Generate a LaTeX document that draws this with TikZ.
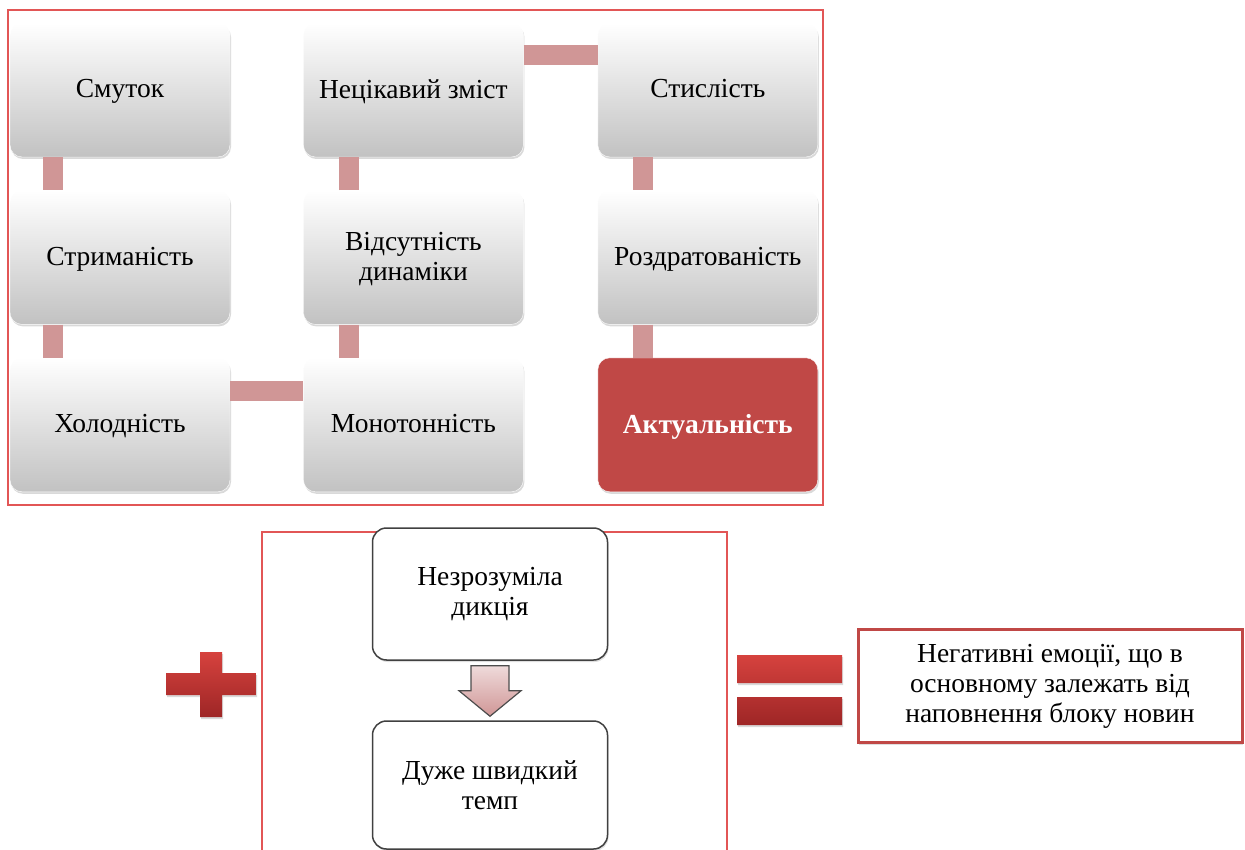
\documentclass[tikz,border=0pt]{standalone}
\usepackage{fontspec}
\setmainfont{Liberation Serif}
\usetikzlibrary{calc,positioning,shadows}
\definecolor{acred}{RGB}{192,72,70}
\definecolor{acdark}{RGB}{158,38,38}
\definecolor{actop}{RGB}{214,66,62}
\definecolor{acpink}{RGB}{208,150,150}
\definecolor{frred}{RGB}{226,86,86}

\tikzset{
  card/.style={draw=white,rounded corners=12pt,top color=white,bottom color=black!24,
    minimum width=220pt,minimum height=134pt,align=center,text depth=0.25em,
    drop shadow={opacity=0.3,shadow xshift=1pt,shadow yshift=-2pt}},
  hotcard/.style={card,top color=acred,bottom color=acred,text=white,font=\fontsize{27.5}{30}\selectfont\bfseries},
  link/.style={line width=20pt,draw=acpink},
  plainbox/.style={draw=black!75,line width=1.5pt,rounded corners=14pt,fill=white,
    minimum width=235pt,align=center,drop shadow={opacity=0.25,shadow xshift=1pt,shadow yshift=-2pt}},
  resbox/.style={draw=acred,line width=3pt,fill=white,minimum width=384pt,minimum height=113pt,
    align=center,drop shadow={opacity=0.25,shadow xshift=1pt,shadow yshift=-2pt}},
  redsign/.style={top color=actop,bottom color=acdark,draw=none,
    drop shadow={opacity=0.3,shadow xshift=1pt,shadow yshift=-2pt}}
}

\begin{document}
\begin{tikzpicture}[x=1pt,y=-1pt,font=\fontsize{27.5}{30}\selectfont]
  \useasboundingbox (0,0) rectangle (1245,850);
  % frames
  \draw[frred,line width=1.5pt] (8,10) rectangle (823,505);
  \draw[frred,line width=1.5pt] (262,850) -- (262,532) -- (727,532) -- (727,850);

  % grid of cards, snake order
  \node[card] (smutok) at (120,90) {Смуток};
  \node[card,below=33pt of smutok] (strym) {Стриманість};
  \node[card,below=33pt of strym] (kholod) {Холодність};
  \node[card,right=73pt of kholod] (monot) {Монотонність};
  \node[card,above=33pt of monot] (dynam) {Відсутність\\динаміки};
  \node[card,above=33pt of dynam] (zmist) {Нецікавий зміст};
  \node[card,right=74pt of zmist] (stysl) {Стислість};
  \node[card,below=33pt of stysl] (rozdr) {Роздратованість};
  \node[hotcard,below=33pt of rozdr] (aktual) {Актуальність};

  \draw[link] ([xshift=43pt]smutok.south west) -- ([xshift=43pt]strym.north west);
  \draw[link] ([xshift=43pt]strym.south west) -- ([xshift=43pt]kholod.north west);
  \draw[link] ([yshift=-33pt]kholod.north east) -- ([yshift=-33pt]monot.north west);
  \draw[link] ([xshift=46pt]monot.north west) -- ([xshift=46pt]dynam.south west);
  \draw[link] ([xshift=46pt]dynam.north west) -- ([xshift=46pt]zmist.south west);
  \draw[link] ([yshift=-32pt]zmist.north east) -- ([yshift=-32pt]stysl.north west);
  \draw[link] ([xshift=45pt]stysl.south west) -- ([xshift=45pt]rozdr.north west);
  \draw[link] ([xshift=45pt]rozdr.south west) -- ([xshift=45pt]aktual.north west);

  % lower part
  \node[plainbox,minimum height=132pt] (dykcia) at (490,594) {Незрозуміла\\дикція};
  \node[plainbox,minimum height=128pt] (temp) at (490,785) {Дуже швидкий\\темп};
  \draw[black!70,line width=1.2pt,top color=acpink!35!white,bottom color=acpink]
    ($(dykcia.south)+(-19,5)$) -- ($(dykcia.south)+(19,5)$) -- ($(dykcia.south)+(19,30)$)
    -- ($(dykcia.south)+(31,30)$) -- ($(temp.north)+(0,-4)$) -- ($(dykcia.south)+(-31,30)$)
    -- ($(dykcia.south)+(-19,30)$) -- cycle;

  % plus
  \path[redsign] (200,652) -- (222,652) -- (222,673) -- (256,673) -- (256,695) -- (222,695)
    -- (222,717) -- (200,717) -- (200,695) -- (166,695) -- (166,673) -- (200,673) -- cycle;
  % equals
  \path[redsign] (737,655) rectangle (842,683) (737,697) rectangle (842,725);

  \node[resbox] (emoc) at (1050,686) {Негативні емоції, що в\\основному залежать від\\наповнення блоку новин};
\end{tikzpicture}
\end{document}
